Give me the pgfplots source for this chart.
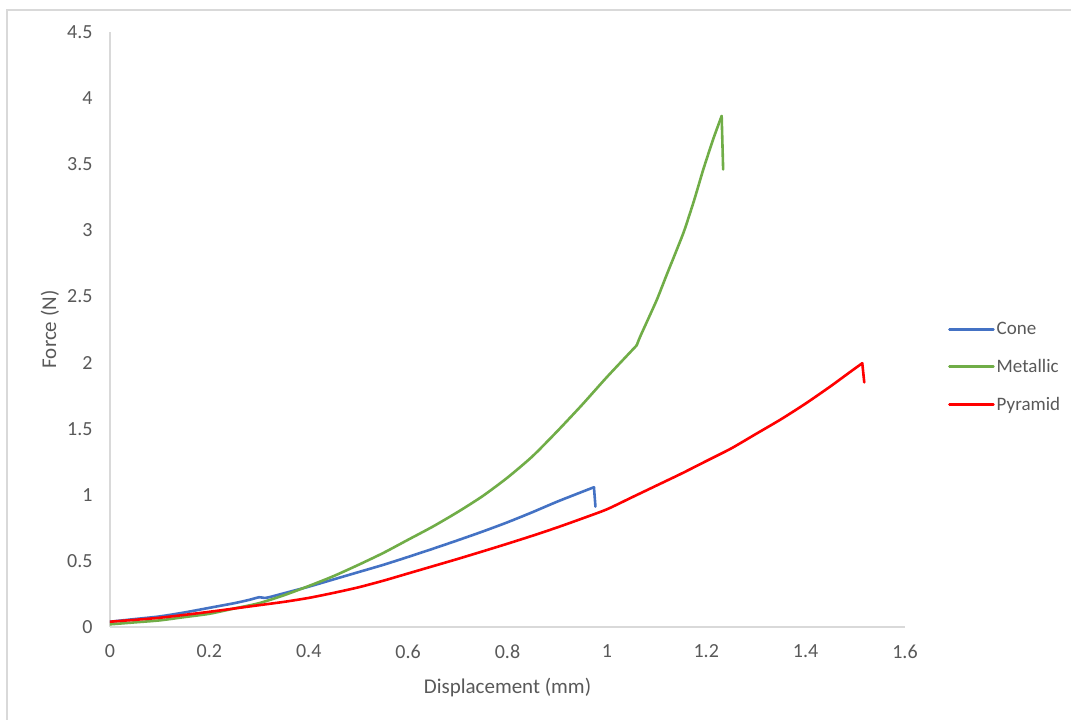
\documentclass[border=0pt]{standalone}
\usepackage{fontspec}
\setmainfont{Carlito}
\usepackage{pgfplots}
\pgfplotsset{compat=1.18}
\definecolor{cone}{HTML}{4472C4}
\definecolor{metal}{HTML}{70AD47}
\definecolor{pyr}{HTML}{FF0000}
\definecolor{txt}{HTML}{595959}
\definecolor{axl}{HTML}{D9D9D9}
\begin{document}
\begin{tikzpicture}[x=1pt,y=1pt]
\useasboundingbox (-110,-93) rectangle (961,627);
\fill[white] (-110,-93) rectangle (961,627);
\draw[axl, line width=1.3pt] (-103,-140) rectangle (990,617);
\begin{axis}[
  scale only axis, width=795pt, height=595pt,
  at={(0,0)}, anchor=south west,
  xmin=0, xmax=1.6, ymin=0, ymax=4.5,
  axis x line=bottom, axis y line=left,
  axis line style={-, draw=axl, line width=1.3pt},
  xtick={0,0.2,0.4,0.6,0.8,1,1.2,1.4,1.6},
  xticklabels={0,0.2,0.4,0.6,0.8,1,1.2,1.4,1.6},
  ytick={0,0.5,1,1.5,2,2.5,3,3.5,4,4.5},
  yticklabels={0,0.5,1,1.5,2,2.5,3,3.5,4,4.5},
  major tick length=0pt,
  tick style={draw=none},
  ticklabel style={font=\fontsize{20}{22}\selectfont, text=txt},
  xticklabel style={yshift=-14pt},
  yticklabel style={xshift=-14pt},
  legend style={draw=none, fill=none, at={(axis description cs:1.054,0.437)}, anchor=west,
    inner sep=0pt, font=\fontsize{19}{21}\selectfont, text=txt, row sep=19pt,
    /tikz/every odd column/.append style={column sep=0pt}},
  legend cell align=left,
  legend image code/.code={\draw[#1, line width=2.6pt] (0pt,0pt) -- (44pt,0pt);},
  every axis plot/.append style={line width=2.6pt, line join=round, line cap=round},
]
\addplot[cone, smooth, tension=0.4] coordinates {
(0,0.04) (0.05,0.06) (0.1,0.08) (0.15,0.11) (0.2,0.145) (0.25,0.18) (0.28,0.205) (0.30,0.225) (0.31,0.22) (0.32,0.225)
(0.36,0.265) (0.4,0.305) (0.45,0.36) (0.5,0.415) (0.55,0.47) (0.6,0.53) (0.65,0.592) (0.7,0.656) (0.75,0.722) (0.8,0.792) (0.85,0.868)
(0.9,0.948) (0.95,1.022) (0.974,1.057)};
\addlegendentry{Cone}
\addplot[cone, forget plot] coordinates {(0.974,1.057) (0.977,0.91)};
\addplot[metal, smooth, tension=0.4] coordinates {
(0,0.02) (0.05,0.035) (0.1,0.05) (0.15,0.075) (0.2,0.10) (0.25,0.14) (0.3,0.18) (0.35,0.24) (0.4,0.31) (0.45,0.385)
(0.5,0.47) (0.55,0.56) (0.6,0.66) (0.65,0.76) (0.7,0.87) (0.75,0.99) (0.8,1.13) (0.85,1.29) (0.9,1.48) (0.95,1.68) (1.0,1.89) (1.06,2.13)};
\addlegendentry{Metallic}
\addplot[metal, smooth, tension=0.3, forget plot] coordinates {
(1.06,2.13) (1.067,2.196) (1.1,2.47) (1.12,2.66) (1.154,2.98) (1.175,3.22) (1.194,3.46) (1.214,3.69) (1.231,3.865)};
\addplot[metal, forget plot] coordinates {(1.231,3.865) (1.234,3.46)};
\addplot[pyr, smooth, tension=0.4] coordinates {
(0,0.04) (0.1,0.07) (0.2,0.115) (0.3,0.165) (0.35,0.19) (0.4,0.22) (0.45,0.258) (0.5,0.30) (0.55,0.35) (0.6,0.405) (0.65,0.46)
(0.7,0.515) (0.75,0.572) (0.8,0.63) (0.85,0.69) (0.9,0.753) (0.95,0.82) (1.0,0.89) (1.05,0.98) (1.1,1.07) (1.15,1.16) (1.2,1.255)
(1.25,1.35) (1.3,1.46) (1.35,1.57) (1.4,1.69) (1.45,1.82) (1.49,1.93) (1.514,1.995)};
\addlegendentry{Pyramid}
\addplot[pyr, forget plot] coordinates {(1.514,1.995) (1.518,1.85)};
\end{axis}
\node[text=txt, font=\fontsize{21}{23}\selectfont] at (397.5,-61) {Displacement (mm)};
\node[text=txt, font=\fontsize{21}{23}\selectfont, rotate=90] at (-60,297.5) {Force (N)};
\end{tikzpicture}
\end{document}
